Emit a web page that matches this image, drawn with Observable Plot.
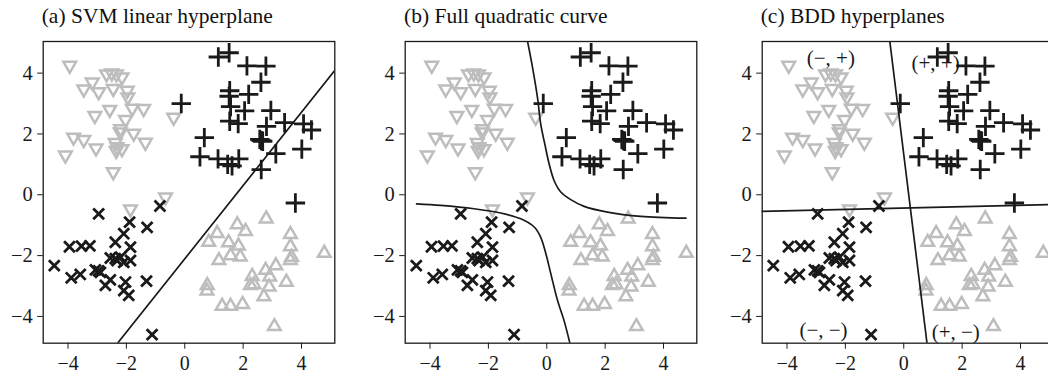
<!DOCTYPE html>
<html>
<head>
<meta charset="utf-8">
<script src="https://cdn.jsdelivr.net/npm/d3@7"></script>
<script src="https://cdn.jsdelivr.net/npm/@observablehq/plot@0.6"></script>
<style>
  html, body { margin: 0; padding: 0; background: #fff; }
  body { width: 1048px; height: 379px; overflow: hidden; position: relative; }
  .panel { position: absolute; top: 0; height: 379px; }
  .title { position: absolute; top: 6px; font-family: "Liberation Serif", "Times New Roman", serif; font-size: 21.5px; line-height: 21px; color: #111; white-space: nowrap; }
  .panel svg { position: absolute; left: 0; top: 0; overflow: visible; }
</style>
</head>
<body>
<script>
// ---------- data ----------
const panelTitles = ["(a) SVM linear hyperplane", "(b) Full quadratic curve", "(c) BDD hyperplanes"];
const xTicks = [-4, -2, 0, 2, 4];
const yTicks = [-4, -2, 0, 2, 4];
const xDomain = [-4.85, 5.14];
const yDomain = [-4.88, 5.04];

// class: gray downward triangles (top-left)
const downTri = [
  [-3.94, 4.25], [-2.68, 3.97], [-2.50, 4.00], [-2.34, 3.97], [-2.15, 3.87],
  [-3.17, 3.70], [-3.46, 3.47], [-2.95, 3.38], [-2.45, 3.49], [-1.97, 3.43],
  [-1.95, 3.21], [-3.08, 2.60], [-2.57, 2.80], [-1.80, 2.84], [-1.41, 2.83],
  [-2.03, 2.47], [-2.20, 2.17], [-2.21, 2.06], [-1.75, 2.02], [-3.81, 1.89],
  [-3.46, 1.81], [-3.04, 1.53], [-2.38, 1.71], [-2.32, 1.57], [-2.15, 1.51],
  [-2.35, 1.45], [-1.35, 1.72], [-4.09, 1.30], [-2.45, 0.75], [-0.38, 2.54],
  [-0.66, -0.08], [-1.86, -0.47]
];
// class: black plus (top-right)
const plusPts = [
  [-0.12, 3.00], [1.15, 4.53], [1.52, 4.67], [2.13, 4.24], [2.78, 4.23],
  [2.61, 3.70], [1.54, 3.42], [1.52, 3.24], [2.19, 3.30], [1.57, 2.90],
  [2.05, 2.76], [2.95, 2.77], [1.54, 2.42], [1.83, 2.34], [2.80, 2.25],
  [3.42, 2.37], [4.07, 2.33], [4.34, 2.13], [0.67, 1.88], [2.57, 1.82],
  [2.67, 1.76], [2.62, 1.78], [0.52, 1.25], [1.14, 1.18], [1.47, 1.00],
  [1.62, 0.95], [1.85, 1.18], [3.12, 1.35], [4.01, 1.50], [2.62, 0.83],
  [3.79, -0.27]
];
// class: black times (bottom-left)
const timesPts = [
  [-4.47, -2.33], [-3.95, -1.71], [-3.54, -1.69], [-3.25, -1.68], [-3.89, -2.73],
  [-3.58, -2.62], [-2.95, -0.63], [-3.06, -2.47], [-2.89, -2.55], [-2.72, -2.98],
  [-2.55, -2.80], [-2.55, -2.08], [-2.38, -2.10], [-2.32, -2.16], [-2.09, -2.22],
  [-1.86, -2.16], [-2.38, -1.56], [-2.09, -1.28], [-1.89, -0.90], [-1.86, -1.72],
  [-2.03, -2.87], [-2.09, -3.15], [-1.92, -3.31], [-1.29, -1.07], [-1.31, -2.84],
  [-0.85, -0.37], [-1.12, -4.60], [-2.20, -2.05], [-2.95, -2.50]
];
// class: gray upward triangles (bottom-right)
const upTri = [
  [2.79, -0.79], [1.80, -0.98], [2.08, -1.20], [1.11, -1.27], [0.82, -1.56],
  [1.50, -1.57], [1.84, -1.68], [3.62, -1.30], [3.62, -1.70], [1.57, -2.00],
  [1.90, -2.04], [1.17, -2.16], [3.66, -2.05], [3.62, -2.16], [4.78, -1.92],
  [3.12, -2.33], [2.77, -2.48], [2.31, -2.68], [2.91, -2.70], [2.37, -2.95],
  [2.25, -2.98], [3.48, -2.87], [0.77, -2.98], [0.76, -3.16], [2.89, -3.03],
  [2.71, -3.35], [1.28, -3.66], [1.57, -3.66], [1.98, -3.60], [3.07, -4.33]
];

// decision boundaries
const svmLine = [[-2.36, -4.95], [5.20, 4.16]];
const quadUpper = [
  [-0.67, 5.10], [-0.49, 4.20], [-0.32, 3.21], [-0.21, 2.34], [-0.07, 1.68],
  [0.08, 1.02], [0.25, 0.47], [0.48, 0.09], [0.82, -0.16], [1.28, -0.38],
  [2.08, -0.57], [3.22, -0.71], [4.77, -0.77]
];
const quadLower = [
  [-4.46, -0.30], [-3.63, -0.35], [-2.49, -0.46], [-1.58, -0.60], [-0.89, -0.79],
  [-0.43, -1.06], [-0.21, -1.39], [-0.03, -1.94], [0.14, -2.60], [0.37, -3.48],
  [0.59, -4.13], [0.81, -4.95]
];
const bddVertical = [[-0.485, 5.10], [0.805, -4.95]];
const bddHorizontal = [[-4.95, -0.55], [5.20, -0.32]];
const bddLabels = [
  { x: -2.5, y: 4.5, label: "(−, +)" },
  { x: 1.09, y: 4.31, label: "(+, +)" },
  { x: -2.75, y: -4.46, label: "(−, −)" },
  { x: 1.78, y: -4.51, label: "(+, −)" }
];

// ---------- drawing ----------
const GRAY = "#bdbdbd";
const BLACK = "#1a1a1a";
const FONT = "'Liberation Serif', 'Times New Roman', serif";
const panelLefts = [0, 362.3, 719];
const ML = 42.7, MT = 41, MB = 36.3, PW = 291.6, MR = 10;

function baseMarks() {
  return [
    Plot.axisX(xTicks, { tickSize: 6, tickPadding: 7, label: null, fontSize: 20, stroke: BLACK, fill: BLACK }),
    Plot.axisY(yTicks, { tickSize: 5.5, tickPadding: 5, label: null, fontSize: 20.5, stroke: BLACK, fill: BLACK }),
    Plot.dot(downTri, { x: d => d[0], y: d => d[1], symbol: "triangle", rotate: 180, r: 4.7, fill: "none", stroke: GRAY, strokeWidth: 2.5 }),
    Plot.dot(upTri, { x: d => d[0], y: d => d[1], symbol: "triangle", r: 4.7, fill: "none", stroke: GRAY, strokeWidth: 2.5 }),
    Plot.dot(plusPts, { x: d => d[0], y: d => d[1], symbol: "plus", r: 6.3, stroke: BLACK, strokeWidth: 2.8 }),
    Plot.dot(timesPts, { x: d => d[0], y: d => d[1], symbol: "times", r: 5.0, stroke: BLACK, strokeWidth: 2.8 })
  ];
}

const lineOpts = { x: d => d[0], y: d => d[1], stroke: BLACK, strokeWidth: 1.7, clip: true };
const extras = [
  [Plot.line(svmLine, lineOpts)],
  [Plot.line(quadUpper, { ...lineOpts, curve: "catmull-rom" }),
   Plot.line(quadLower, { ...lineOpts, curve: "catmull-rom" })],
  [Plot.line(bddVertical, lineOpts),
   Plot.line(bddHorizontal, lineOpts),
   Plot.text(bddLabels, { x: "x", y: "y", text: "label", fontSize: 21, fill: BLACK, fontFamily: FONT })]
];

panelTitles.forEach((t, i) => {
  const div = document.createElement("div");
  div.className = "panel";
  div.style.left = panelLefts[i] + "px";
  div.style.width = (ML + PW + MR) + "px";
  const chart = Plot.plot({
    width: ML + PW + MR,
    height: 379,
    marginLeft: ML, marginTop: MT, marginBottom: MB, marginRight: MR,
    x: { domain: xDomain },
    y: { domain: yDomain },
    style: { fontFamily: FONT, fontSize: "20px", background: "transparent", color: BLACK, overflow: "visible" },
    marks: [
      ...baseMarks(),
      ...extras[i],
      Plot.frame({ stroke: BLACK, strokeWidth: 1.3 })
    ]
  });
  div.appendChild(chart);
  const title = document.createElement("div");
  title.className = "title";
  title.style.left = (ML - 1) + "px";
  title.textContent = t;
  div.appendChild(title);
  document.body.appendChild(div);
});
</script>
</body>
</html>
